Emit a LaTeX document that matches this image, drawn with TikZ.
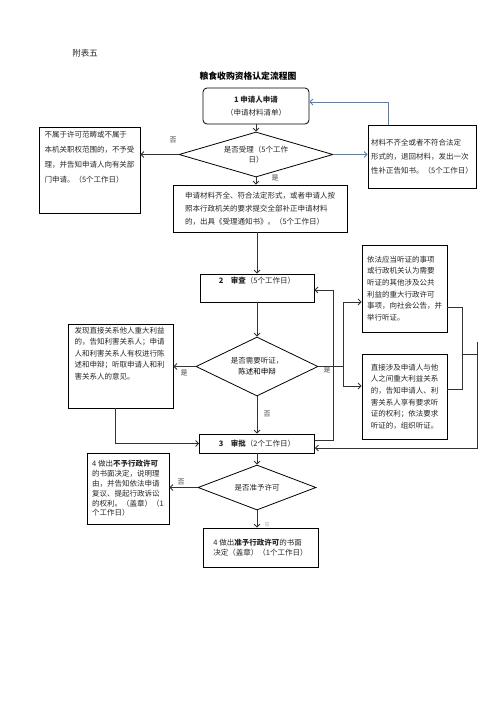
\documentclass[tikz,border=0pt]{standalone}
\usepackage{fontspec}
\setmainfont{Noto Sans CJK SC}
\usetikzlibrary{calc,shapes.geometric,arrows.meta}
\definecolor{retblue}{RGB}{79,129,189}

\begin{document}
\begin{tikzpicture}[x=1pt, y=-1pt,
  every node/.style={font=\fontsize{7.5}{11}\selectfont, text=black!85},
  box/.style={draw=black, line width=0.8pt, inner sep=2pt},
  dec/.style={draw=black, line width=0.8pt, diamond, inner sep=0pt, align=center},
  flow/.style={-{Straight Barb[length=3pt,width=6pt]}, black!80, line width=0.8pt},
  link/.style={black!80, line width=0.8pt},
  back/.style={-{Straight Barb[length=3pt,width=6pt]}, retblue, line width=0.8pt},
  tag/.style={font=\fontsize{7}{8}\selectfont, text=black!75},
  linesp/.style={font=\fontsize{7.5}{#1}\selectfont}
]
\useasboundingbox (0,0) rectangle (496,702);

% --------- Heading ----------
\node[font=\fontsize{8.5}{10}\selectfont] (annex) at (85,53) {附表五};
\node[font=\fontsize{8.8}{10}\selectfont\bfseries, text=black] (title) at (248,76) {粮食收购资格认定流程图};

% --------- Step 1: application and acceptance ----------
\node[box, rounded corners=4pt, align=center, minimum width=106pt, minimum height=36pt, linesp=13]
  (apply) at (256,106) {\textbf{1\ 申请人申请}\\（申请材料清单）};

\node[dec, shape aspect=3, minimum width=154pt, minimum height=45pt, linesp=10]
  (accept) at (256,154.5) {是否受理（5个工作\\日）};

\node[box, minimum width=101pt, minimum height=86pt, linesp=15] (reject) at (89.5,170)
  {\parbox[c][78pt][t]{90pt}{不属于许可范畴或不属于\\本机关职权范围的，不予受\\理，并告知申请人向有关部\\门申请。（5个工作日）}};

\node[box, align=left, minimum width=108pt, minimum height=63pt, linesp=14] (notice) at (422,156.5)
  {材料不齐全或者不符合法定\\形式的，退回材料，发出一次\\性补正告知书。（5个工作日）};

\node[box, align=left, minimum width=174pt, minimum height=47pt, linesp=13] (receipt) at (260,208.5)
  {申请材料齐全、符合法定形式，或者申请人按\\照本行政机关的要求提交全部补正申请材料\\的，出具《受理通知书》。（5个工作日）};

% --------- Step 2: review and hearing ----------
\node[box, minimum width=114pt, text height=7pt, text depth=17pt] (review) at (257,288)
  {\textbf{2}\quad\textbf{审查}（5个工作日）};

\node[dec, shape aspect=2, minimum width=122pt, minimum height=59pt, linesp=11]
  (hearing) at (257,366.5) {是否需要听证，\\\textcolor{black}{陈述和申辩}};

\node[box, minimum width=105pt, minimum height=84pt, linesp=11.5] (state) at (120.5,366)
  {\parbox[c][78pt][t]{92pt}{发现直接关系他人重大利益\\的，告知利害关系人；申请\\人和利害关系人有权进行陈\\述和申辩；听取申请人和利\\害关系人的意见。}};

\node[box, align=left, minimum width=85pt, minimum height=87pt, linesp=11.7] (public) at (404.5,288.5)
  {依法应当听证的事项\\或行政机关认为需要\\听证的其他涉及公共\\利益的重大行政许可\\事项，向社会公告，并\\举行听证。};

\node[box, align=left, minimum width=85pt, minimum height=85pt, linesp=11.7] (notify) at (404.5,396.5)
  {直接涉及申请人与他\\人之间重大利益关系\\的，告知申请人、利\\害关系人享有要求听\\证的权利；依法要求\\听证的，组织听证。};

% --------- Step 3: approval and decision ----------
\node[box, minimum width=115pt, minimum height=19pt] (approve) at (257,443.5)
  {\textbf{3}\quad\textbf{审批}（2个工作日）};

\node[dec, shape aspect=2.6, minimum width=118pt, minimum height=45pt] (grant) at (257,487.5) {是否准予许可};

\node[box, align=left, minimum width=82pt, minimum height=71pt, linesp=9.8] (deny) at (128,488.5)
  {4 做出\textbf{不予行政许可}\\的书面决定，说明理\\由，并告知依法申请\\复议、提起行政诉讼\\的权利。（盖章）（1\\个工作日）};

\node[box, align=left, minimum width=115pt, minimum height=39pt, linesp=10.5] (issue) at (260.5,547.5)
  {4 做出\textbf{准予行政许可}的书面\\决定（盖章）（1个工作日）};

% --------- Branch labels ----------
\node[tag] (noA)  at (173,140) {否};
\node[tag] (yesA) at (275,178) {是};
\node[tag] (yesL) at (184,373) {是};
\node[tag] (yesR) at (327,370) {是};
\node[tag] (noH)  at (267,414) {否};
\node[tag] (noG)  at (181,482) {否};
\node[tag, font=\fontsize{5}{6}\selectfont, text=black!30] (yesG) at (267,525) {是};

% --------- Main column ----------
\draw[flow] (apply.south) -- (accept.north);
\draw[flow] (accept.south) -- (accept.south |- receipt.north);
\draw[flow] (receipt.south -| review.north) -- (review.north);
\draw[flow] (review.south) -- (hearing.north);
\draw[flow] (hearing.south) -- (approve.north);
\draw[flow] (approve.south) -- (grant.north);
\draw[flow] (grant.south) -- (grant.south |- issue.north);

% --------- Side branches ----------
\draw[flow] (accept.west) -- (accept.west -| reject.east);
\draw[back] (accept.east) -- (accept.east -| notice.west);
\coordinate (retA) at (388,102);
\draw[back] (notice.north -| retA) -- (retA) -- (retA -| apply.east);

\draw[flow] (hearing.west) -- (hearing.west -| state.east);
\coordinate (drop) at (115,443.5);
\draw[flow] (state.south -| drop) -- (drop) -- (approve.west);

\coordinate (fork)  at (343,366.5);
\coordinate (forkU) at (343,302);
\coordinate (forkD) at (343,386);
\draw[link] (hearing.east) -- (fork);
\draw[flow] (fork) -- (forkU) -- (forkU -| public.west);
\draw[flow] (fork) -- (forkD) -- (forkD -| notify.west);

\coordinate (mergeU) at (462,307);
\coordinate (mergeD) at (462,389);
\coordinate (mergeM) at (462,354);
\coordinate (backT)  at (477,342);
\coordinate (backB)  at (477,448);
\draw[link] (mergeU -| public.east) -- (mergeU) -- (mergeD) -- (mergeD -| notify.east);
\draw[link] (mergeM) -- (mergeM -| backT);
\draw[flow] (backT) -- (backB) -- (backB -| approve.east);

\coordinate (loopB) at (333,440);
\coordinate (loopT) at (333,290);
\draw[flow] (loopB -| approve.east) -- (loopB) -- (loopT) -- (loopT -| review.east);

\draw[flow] (grant.west) -- (grant.west -| deny.east);

\end{tikzpicture}
\end{document}
